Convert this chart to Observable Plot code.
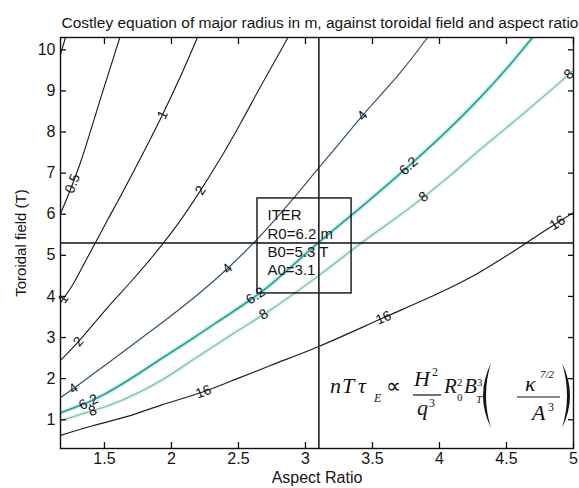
<!DOCTYPE html>
<html>
<head>
<meta charset="utf-8">
<script src="https://cdn.jsdelivr.net/npm/d3@7"></script>
<script src="https://cdn.jsdelivr.net/npm/@observablehq/plot@0.6"></script>
<style>
  html, body { margin: 0; padding: 0; background: #fff; }
  #chart svg { display: block; }
</style>
</head>
<body>
<div id="chart"></div>
<script>
// ---------- data ----------
const titleText = "Costley equation of major radius in m, against toroidal field and aspect ratio";
const xLabel = "Aspect Ratio";
const yLabel = "Toroidal field (T)";
const xTicks = [1.5, 2, 2.5, 3, 3.5, 4, 4.5, 5];
const yTicks = [1, 2, 3, 4, 5, 6, 7, 8, 9, 10];

const levels = [0.25, 0.5, 1, 2, 4, 6.2, 8, 16];

// contour lines of major radius R0 (m): aspect ratio A -> toroidal field B
const c025A = [1.172, 1.209];
const c025B = [9.89, 10.3];
const c05A = [1.172, 1.224, 1.321, 1.396, 1.471, 1.545, 1.615];
const c05B = [6.02, 6.42, 7.26, 8.02, 8.82, 9.58, 10.3];
const c1A = [1.172, 1.262, 1.344, 1.433, 1.523, 1.620, 1.791, 1.933, 2.067, 2.194];
const c1B = [3.85, 4.28, 4.77, 5.31, 5.86, 6.44, 7.50, 8.42, 9.35, 10.3];
const c2A = [1.172, 1.306, 1.523, 1.717, 1.896, 2.067, 2.217, 2.366, 2.515, 2.664, 2.87];
const c2B = [2.443, 2.90, 3.73, 4.43, 5.12, 5.85, 6.58, 7.36, 8.21, 9.10, 10.3];
const c4A = [1.172, 1.269, 1.418, 1.597, 1.769, 1.978, 2.217, 2.418, 2.642, 2.888, 3.097, 3.262, 3.425, 3.709, 3.911];
const c4B = [1.54, 1.76, 2.12, 2.55, 2.97, 3.48, 4.10, 4.68, 5.40, 6.30, 7.12, 7.76, 8.40, 9.45, 10.3];
const c62A = [1.172, 1.373, 1.471, 1.672, 1.918, 2.150, 2.344, 2.687, 3.097, 3.433, 3.732, 4.060, 4.284, 4.508, 4.694];
const c62B = [1.17, 1.42, 1.57, 1.95, 2.47, 2.96, 3.38, 4.15, 5.31, 6.22, 7.06, 8.04, 8.77, 9.57, 10.3];
const c8A = [1.172, 1.411, 1.545, 1.791, 1.970, 2.120, 2.463, 2.762, 3.112, 3.433, 3.784, 4.082, 4.284, 4.627, 5.0];
const c8B = [0.98, 1.22, 1.36, 1.72, 2.05, 2.37, 3.10, 3.72, 4.54, 5.34, 6.17, 6.95, 7.52, 8.45, 9.50];
const c16A = [1.172, 1.418, 1.672, 1.918, 2.239, 2.515, 2.739, 3.090, 3.582, 4.008, 4.284, 4.530, 4.754, 5.0];
const c16B = [0.62, 0.86, 1.08, 1.35, 1.68, 2.03, 2.32, 2.77, 3.48, 4.10, 4.56, 5.05, 5.53, 6.04];

// in-line contour labels: which contour, and where along it (aspect ratio)
const labelLevel = [0.5, 1, 1, 2, 2, 4, 4, 4, 6.2, 6.2, 6.2, 8, 8, 8, 8, 16, 16, 16];
const labelA = [1.262, 1.933, 1.192, 2.217, 1.306, 3.425, 2.418, 1.269, 3.769, 2.627, 1.381, 4.965, 3.881, 2.687, 1.411, 4.88, 3.582, 2.239];

// ITER reference point
const iterA = 3.1, iterB = 5.3, iterR = 6.2;
const iterLines = ["ITER", "R0=6.2 m", "B0=5.3 T", "A0=3.1"];
const iterBoxA = [2.642, 3.344];
const iterBoxB = [4.073, 6.384];

// ---------- layout & style ----------
const W = 579, H = 488, mL = 60, mR = 6, mT = 37, mB = 40;
const xDom = [1.172, 5.0], yDom = [0.3, 10.3];
const kX = (W - mL - mR) / (xDom[1] - xDom[0]);
const kY = (H - mT - mB) / (yDom[1] - yDom[0]);
const sans = '"Liberation Sans", Arial, Helvetica, sans-serif';
const serif = '"Liberation Serif", "Times New Roman", serif';

const lineStyle = new Map([
  [0.25, {stroke: "#161616", width: 1.1}],
  [0.5,  {stroke: "#161616", width: 1.1}],
  [1,    {stroke: "#161618", width: 1.1}],
  [2,    {stroke: "#1c1e26", width: 1.1}],
  [4,    {stroke: "#34506a", width: 1.2}],
  [6.2,  {stroke: "#1fa49c", width: 1.7, halo: "#9fdcd6"}],
  [8,    {stroke: "#7cc6a2", width: 1.4, halo: "#cdeedd"}],
  [16,   {stroke: "#2a1a1c", width: 1.2}]
]);

const contourA = new Map([[0.25, c025A], [0.5, c05A], [1, c1A], [2, c2A], [4, c4A], [6.2, c62A], [8, c8A], [16, c16A]]);
const contourB = new Map([[0.25, c025B], [0.5, c05B], [1, c1B], [2, c2B], [4, c4B], [6.2, c62B], [8, c8B], [16, c16B]]);

const rows = levels.flatMap(lv => contourA.get(lv).map((a, i) => ({level: lv, A: a, B: contourB.get(lv)[i]})));

function onContour(level, a) {
  const As = contourA.get(level), Bs = contourB.get(level);
  let i = d3.bisectRight(As, a) - 1;
  i = Math.max(0, Math.min(As.length - 2, i));
  const t = (a - As[i]) / (As[i + 1] - As[i]);
  const b = Bs[i] + t * (Bs[i + 1] - Bs[i]);
  const ang = Math.atan2(-(Bs[i + 1] - Bs[i]) * kY, (As[i + 1] - As[i]) * kX) * 180 / Math.PI;
  return {b, ang};
}
const labels = labelLevel.map((lv, i) => {
  const {b, ang} = onContour(lv, labelA[i]);
  return {text: String(lv), A: labelA[i], B: b, rot: ang};
});

// formula drawn as a custom mark
function formulaMark(index, scales, values, dim) {
  const g = d3.create("svg:g").attr("fill", "#151515").attr("font-family", serif).attr("text-anchor", "start");
  const ox = dim.width - dim.marginRight - 243;
  const oy = dim.height - dim.marginBottom - 55;
  const T = (s, x, y, size, italic = true) =>
    g.append("text").attr("x", ox + x).attr("y", oy + y).attr("font-size", size)
     .attr("font-style", italic ? "italic" : "normal").attr("text-anchor", "start").text(s);
  T("n", 0, 0, 22); T("T", 12, 0, 22); T("τ", 28, 0, 22); T("E", 44, 9, 12);
  T("∝", 56, 0, 21, false);
  T("H", 84, -7, 22); T("2", 102, -17, 12, false);
  g.append("line").attr("x1", ox + 83).attr("x2", ox + 111).attr("y1", oy + 2).attr("y2", oy + 2).attr("stroke", "#151515").attr("stroke-width", 1.2);
  T("q", 87, 22, 22); T("3", 99, 14, 12, false);
  T("R", 114, 0, 21); T("0", 127, 8, 11, false); T("2", 127, -7, 11, false);
  T("B", 134, 0, 21); T("T", 146, 10, 11); T("3", 147, -7, 11, false);
  g.append("path").attr("d", `M${ox + 161},${oy - 30} Q${ox + 145},${oy + 2.5} ${ox + 161},${oy + 35} Q${ox + 151},${oy + 2.5} ${ox + 161},${oy - 30} Z`);
  T("κ", 195, -2, 22); T("7/2", 210, -15, 11);
  g.append("line").attr("x1", ox + 187).attr("x2", ox + 230).attr("y1", oy + 4).attr("y2", oy + 4).attr("stroke", "#151515").attr("stroke-width", 1.2);
  T("A", 202, 27, 22); T("3", 218, 18, 12, false);
  g.append("path").attr("d", `M${ox + 232},${oy - 30} Q${ox + 248},${oy + 2.5} ${ox + 232},${oy + 35} Q${ox + 242},${oy + 2.5} ${ox + 232},${oy - 30} Z`);
  return g.node();
}

const contourMarks = levels.flatMap(lv => {
  const s = lineStyle.get(lv);
  const data = rows.filter(r => r.level === lv);
  const m = [];
  if (s.halo) m.push(Plot.line(data, {x: "A", y: "B", stroke: s.halo, strokeWidth: 4.5, strokeOpacity: 0.45, curve: "catmull-rom", clip: true}));
  m.push(Plot.line(data, {x: "A", y: "B", stroke: s.stroke, strokeWidth: s.width, curve: "catmull-rom", clip: true}));
  return m;
});

const fmt = d => String(d);

const chart = Plot.plot({
  width: W, height: H,
  marginLeft: mL, marginRight: mR, marginTop: mT, marginBottom: mB,
  x: {domain: xDom},
  y: {domain: yDom},
  style: {fontFamily: sans, fontSize: "16px", background: "#fff", color: "#111", overflow: "visible"},
  marks: [
    ...contourMarks,
    Plot.text(labels, {x: "A", y: "B", text: "text", rotate: "rot", fontSize: 14, fill: "#151515", fontFamily: sans}),
    Plot.ruleX([iterA], {stroke: "#111", strokeWidth: 1.5}),
    Plot.ruleY([iterB], {stroke: "#111", strokeWidth: 1.5}),
    Plot.rect([{x1: iterBoxA[0], x2: iterBoxA[1], y1: iterBoxB[0], y2: iterBoxB[1]}],
      {x1: "x1", x2: "x2", y1: "y1", y2: "y2", fill: "none", stroke: "#111", strokeWidth: 1.4}),
    Plot.text([iterLines.join("\n")], {x: iterBoxA[0], y: iterBoxB[1], dx: 10, dy: 9, text: d => d,
      textAnchor: "start", lineAnchor: "top", lineHeight: 1.223, fontSize: 15, fill: "#151515"}),
    formulaMark,
    Plot.frame({stroke: "#111", strokeWidth: 1.4}),
    Plot.axisX(xTicks, {anchor: "bottom", tickSize: 6, dy: -6, fill: "none", label: null, stroke: "#111", strokeWidth: 1.3}),
    Plot.axisX(xTicks, {anchor: "top", tickSize: 6, dy: 6, fill: "none", label: null, stroke: "#111", strokeWidth: 1.3}),
    Plot.axisY(yTicks, {anchor: "left", tickSize: 6, dx: 6, fill: "none", label: null, stroke: "#111", strokeWidth: 1.3}),
    Plot.axisY(yTicks, {anchor: "right", tickSize: 6, dx: -6, fill: "none", label: null, stroke: "#111", strokeWidth: 1.3}),
    Plot.axisX(xTicks, {anchor: "bottom", tickSize: 0, tickPadding: 4, label: null, tickFormat: fmt, fontSize: 16, fill: "#151515"}),
    Plot.axisY(yTicks, {anchor: "left", tickSize: 0, tickPadding: 5, label: null, tickFormat: fmt, fontSize: 16, fill: "#151515"}),
    Plot.text([xLabel], {frameAnchor: "bottom", dy: 34, lineAnchor: "bottom", textAnchor: "middle", fontSize: 16, fill: "#151515"}),
    Plot.text([yLabel], {frameAnchor: "left", dx: -39, rotate: -90, textAnchor: "middle", lineAnchor: "middle", fontSize: 15, fill: "#151515"}),
    Plot.text([titleText], {frameAnchor: "top-left", dx: 1, dy: -9.5, textAnchor: "start", lineAnchor: "bottom", fontSize: 15.5, fill: "#151515"})
  ]
});
document.getElementById("chart").appendChild(chart);
</script>
</body>
</html>
